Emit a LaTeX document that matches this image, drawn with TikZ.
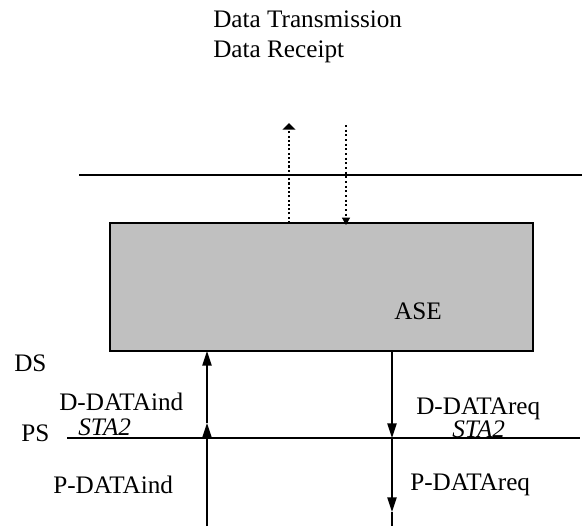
\documentclass[tikz,border=0pt]{standalone}
\usepackage{fontspec}
\setmainfont{Liberation Serif}
\usetikzlibrary{arrows.meta}
\definecolor{boxgray}{RGB}{192,192,192}
\begin{document}
\begin{tikzpicture}[x=0.75pt,y=-0.75pt,
  lbl/.style={anchor=base west,inner sep=0pt,font=\fontsize{18.9}{22}\selectfont},
  itlbl/.style={lbl,font=\fontsize{18.9}{22}\selectfont\itshape},
  rule/.style={line width=1.1pt},
  flow/.style={line width=1.1pt,-{Triangle[width=7pt,length=11pt]}},
  upnote/.style={line width=1.6pt,dash pattern=on 1.6pt off 1.6pt,-{Triangle[width=9.5pt,length=5pt]}},
  downnote/.style={line width=0.8pt,dash pattern=on 1.5pt off 2pt,-{Triangle[width=6pt,length=5.5pt]}},
  asebox/.style={draw,line width=1.1pt,fill=boxgray,inner sep=0pt,
    minimum width=317.25pt,minimum height=96pt}]
\useasboundingbox (0,0) rectangle (582,526);

% service notes at the top
\node[lbl] (tx) at (213,27) {Data Transmission};
\node[lbl] (rx) at (213,57) {Data Receipt};

% upper service boundary
\coordinate (topL) at (79,175);
\coordinate (topR) at (582,175);
\draw[rule] (topL) -- (topR);

% application service element
\node[asebox] (ase) at (321.5,287) {};
\node[lbl] (aselbl) at (394,319) {ASE};

% dotted transfer arrows through the upper boundary
\coordinate (upfoot) at (289,223);
\coordinate (uptip) at (289,123);
\draw[upnote] (upfoot) -- (uptip);
\coordinate (dnstart) at (346,125);
\coordinate (dnend) at (346,225);
\draw[downnote] (dnstart) -- (dnend);

% layer labels
\node[lbl] (ds) at (14,371) {DS};
\node[lbl] (ps) at (21,441) {PS};

% presentation service boundary
\coordinate (psL) at (67,438);
\coordinate (psR) at (580,438);
\draw[rule] (psL) -- (psR);

% indication path (upwards)
\coordinate (indbot) at (207,526);
\coordinate (indmid) at (207,423);
\coordinate (indtop) at (207,351);
\draw[flow] (indbot) -- (indmid);
\draw[flow] (indmid) -- (indtop);

% request path (downwards)
\coordinate (reqtop) at (392,351);
\coordinate (reqmid) at (392,438);
\coordinate (reqlow) at (392,512);
\coordinate (reqbot) at (392,526);
\draw[flow] (reqtop) -- (reqmid);
\draw[flow] (reqmid) -- (reqlow);
\draw[rule] (reqlow) -- (reqbot);

% primitive labels
\node[lbl] (dind) at (59,410) {D-DATAind};
\node[itlbl] (stal) at (78,435) {STA2};
\node[lbl] (pind) at (53,493) {P-DATAind};
\node[lbl] (dreq) at (416,414) {D-DATAreq};
\node[itlbl] (star) at (452,437) {STA2};
\node[lbl] (preq) at (410,490) {P-DATAreq};
\end{tikzpicture}
\end{document}
